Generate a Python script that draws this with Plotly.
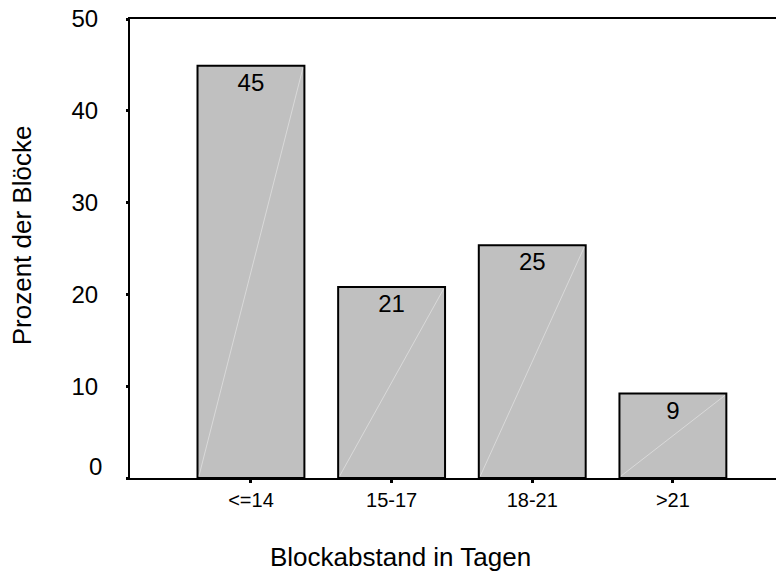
import plotly.graph_objects as go

categories = ["<=14", "15-17", "18-21", ">21"]
percent = [44.9, 20.8, 25.35, 9.2]
labels = ["45", "21", "25", "9"]
y_ticks = [10, 20, 30, 40, 50]

FONT = "Liberation Sans, Arial"
BAR_W = 0.76
fig = go.Figure()
fig.add_trace(go.Bar(
    x=list(range(len(categories))), y=percent, width=BAR_W,
    marker=dict(color="#c0c0c0", line=dict(color="black", width=2)),
    text=labels, textposition="inside", insidetextanchor="end",
    textfont=dict(family=FONT, size=24, color="black"),
    textangle=0, showlegend=False, hoverinfo="skip",
))
# faint diagonal inside each bar
dx, dy = [], []
for i, v in enumerate(percent):
    dx += [i - BAR_W / 2 + 0.01, i + BAR_W / 2 - 0.01, None]
    dy += [0.2, v - 0.2, None]
fig.add_trace(go.Scatter(x=dx, y=dy, mode="lines",
                         line=dict(color="rgba(255,255,255,0.4)", width=1),
                         showlegend=False, hoverinfo="skip"))

fig.update_layout(
    width=776, height=566,
    margin=dict(l=122, r=0, t=11, b=96, autoexpand=False),
    plot_bgcolor="white", paper_bgcolor="white",
    font=dict(family=FONT, color="black"),
    uniformtext=dict(minsize=10, mode=False),
    annotations=[
        dict(text="0", x=0, y=0, xref="paper", yref="y", xanchor="right",
             yanchor="middle", xshift=-26, yshift=12, showarrow=False,
             font=dict(size=24)),
        dict(text="Prozent der Blöcke", x=-0.165, y=0.529, xref="paper",
             yref="paper", textangle=-90, xanchor="center", yanchor="middle",
             showarrow=False, font=dict(size=26)),
        dict(text="Blockabstand in Tagen", x=0.414, y=-0.172, xref="paper",
             yref="paper", xanchor="center", yanchor="middle",
             showarrow=False, font=dict(size=26)),
    ],
)
fig.update_xaxes(
    range=[-0.86, 3.79], tickmode="array", tickvals=list(range(len(categories))),
    ticktext=categories, tickfont=dict(size=20), ticks="outside", ticklen=3,
    tickwidth=3, tickcolor="black",
    showline=True, linecolor="black", linewidth=2, mirror=True, showgrid=False,
    zeroline=False, automargin=False, ticklabeloverflow="allow",
)
fig.update_yaxes(
    range=[0, 50], tickmode="array", tickvals=[0] + y_ticks,
    ticktext=[""] + [str(t) for t in y_ticks], tickfont=dict(size=24),
    ticks="outside", ticklen=2, tickwidth=3, tickcolor="black", ticklabelstandoff=23,
    showline=True, linecolor="black", linewidth=2, showgrid=False, zeroline=False,
    automargin=False, ticklabeloverflow="allow",
)
fig.write_html("out.html")
